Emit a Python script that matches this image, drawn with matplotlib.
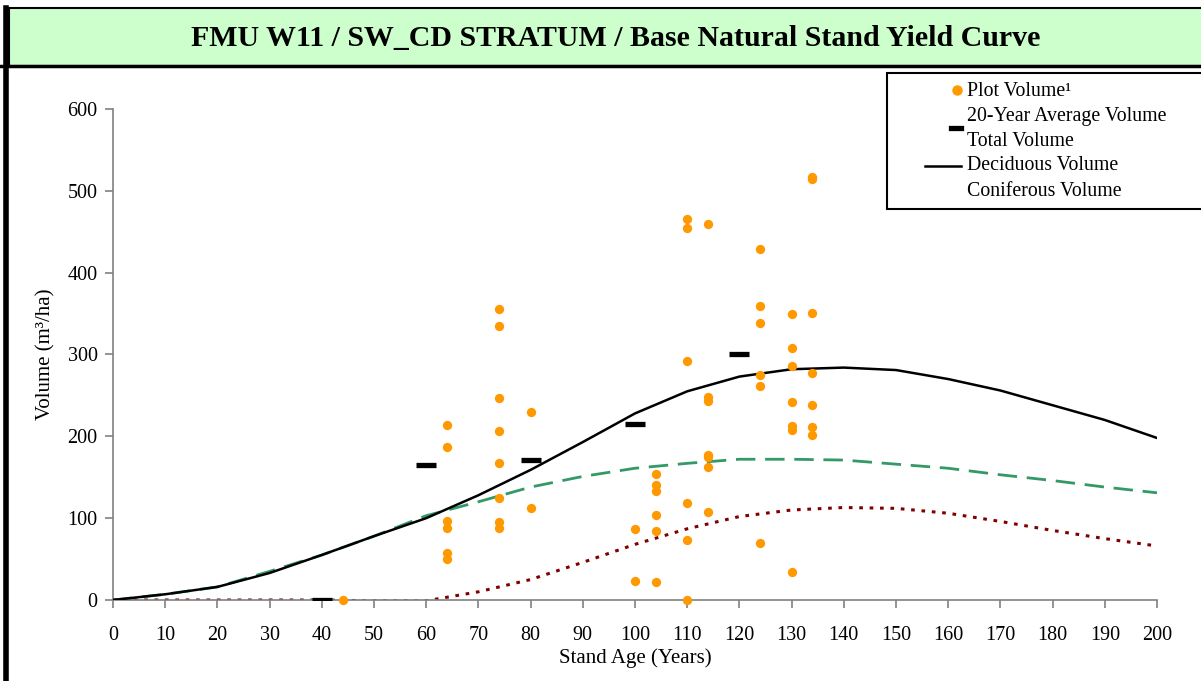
import matplotlib
matplotlib.use("Agg")
from matplotlib import pyplot as plt
from matplotlib.lines import Line2D
from matplotlib.patches import Rectangle

# Yield curve values, every 10 years from 0 to 200
ages = list(range(0, 201, 10))
total_vol = [0, 7, 16, 33, 55, 78, 100, 128, 159, 193, 228, 255, 273, 282, 284, 281, 270, 256, 238, 220, 198]
conif_vol = [0, 7, 16, 35, 55, 78, 103, 120, 138, 151, 161, 167, 172, 172, 171, 166, 161, 153, 146, 138, 131]
decid_vol = [0, 0, 0, 0, 0, -1, -1, 10, 25, 46, 68, 87, 102, 110, 113, 112, 106, 96, 85, 75, 66]

# 20-year average volume
avg_age = [40, 60, 80, 100, 120]
avg_vol = [0, 165, 171, 215, 301]

# Plot volumes
plot_age = [44,
            64, 64, 64, 64, 64, 64,
            74, 74, 74, 74, 74, 74, 74, 74,
            80, 80,
            100, 100,
            104, 104, 104, 104, 104, 104,
            110, 110, 110, 110, 110, 110,
            114, 114, 114, 114, 114, 114, 114,
            124, 124, 124, 124, 124, 124,
            130, 130, 130, 130, 130, 130, 130,
            134, 134, 134, 134, 134, 134, 134]
plot_vol = [0,
            214, 187, 97, 88, 57, 50,
            355, 335, 247, 207, 168, 125, 95, 88,
            230, 112,
            87, 23,
            154, 141, 133, 104, 84, 22,
            466, 454, 292, 118, 73, 0,
            459, 248, 243, 177, 175, 163, 107,
            429, 359, 338, 275, 261, 70,
            350, 308, 286, 242, 213, 208, 34,
            517, 514, 351, 278, 238, 212, 202]

serif = "Liberation Serif"
plt.rcParams["font.family"] = serif

fig = plt.figure(figsize=(12.01, 6.81), dpi=100)
fig.patch.set_facecolor("white")

# Title band
band = Rectangle((0.0075, 1 - 66 / 681), 1.0, (66 - 8) / 681, transform=fig.transFigure,
                 facecolor="#CCFFCC", edgecolor="black", linewidth=1.5, zorder=0)
fig.patches.append(band)
fig.add_artist(Line2D([0, 1], [1 - 66 / 681] * 2, color="black", linewidth=2.5, transform=fig.transFigure))
fig.add_artist(Line2D([5.5 / 1201] * 2, [0, 1 - 8 / 681], color="black", linewidth=4, transform=fig.transFigure))
fig.text(0.513, 1 - 38 / 681, "FMU W11 / SW_CD STRATUM / Base Natural Stand Yield Curve",
         ha="center", va="center", fontsize=21.5, fontweight="bold")

ax = fig.add_axes([113 / 1201, 1 - 600 / 681, (1157 - 113) / 1201, (600 - 109) / 681])
ax.plot(ages, conif_vol, color="#339966", linewidth=2, linestyle=(0, (7, 3.5)), zorder=2)
ax.plot(ages, decid_vol, color="#800000", linewidth=2.2, linestyle=(0, (1.2, 2.2)), zorder=2)
ax.plot(ages, total_vol, color="black", linewidth=1.8, zorder=3)
ax.scatter(plot_age, plot_vol, s=45, color="#FF9900", linewidths=0, zorder=4, clip_on=False)
ax.plot(avg_age, avg_vol, linestyle="none", marker="_", markersize=14.5, markeredgewidth=3.8,
        color="black", zorder=5)

ax.set_xlim(0, 200)
ax.set_ylim(0, 600)
ax.set_xticks(range(0, 201, 10))
ax.set_yticks(range(0, 601, 100))
for side in ["top", "right"]:
    ax.spines[side].set_visible(False)
for side in ["left", "bottom"]:
    ax.spines[side].set_color("#808080")
    ax.spines[side].set_linewidth(1.2)
ax.tick_params(axis="both", direction="out", length=6, width=1.2, color="#808080",
               labelsize=14.5, labelcolor="black")
ax.tick_params(axis="x", pad=13)
ax.tick_params(axis="y", pad=5)
ax.set_xlabel("Stand Age (Years)", fontsize=15, labelpad=2)
ax.set_ylabel("Volume (m³/ha)", fontsize=15, labelpad=9)

# Legend box
fig.patches.append(Rectangle((887 / 1201, 1 - 209 / 681), 0.3, (209 - 73) / 681, transform=fig.transFigure,
                             facecolor="white", edgecolor="black", linewidth=1.5, zorder=6))
leg_labels = ["Plot Volume¹", "20-Year Average Volume", "Total Volume", "Deciduous Volume", "Coniferous Volume"]
leg_y = [91, 116, 141, 166, 191]
for lab, y in zip(leg_labels, leg_y):
    fig.text(967 / 1201, 1 - y / 681, lab, ha="left", va="center", fontsize=14.3, zorder=7)
fig.add_artist(Line2D([957 / 1201], [1 - 90 / 681], marker="o", markersize=6.5, color="#FF9900",
                      linestyle="none", transform=fig.transFigure, zorder=7))
fig.add_artist(Line2D([951 / 1201, 961 / 1201], [1 - 128 / 681] * 2, color="black", linewidth=3.8,
                      transform=fig.transFigure, zorder=7))
fig.add_artist(Line2D([925 / 1201, 961 / 1201], [1 - 166 / 681] * 2, color="black", linewidth=1.8,
                      transform=fig.transFigure, zorder=7))

fig.savefig("out.png", dpi=100)
